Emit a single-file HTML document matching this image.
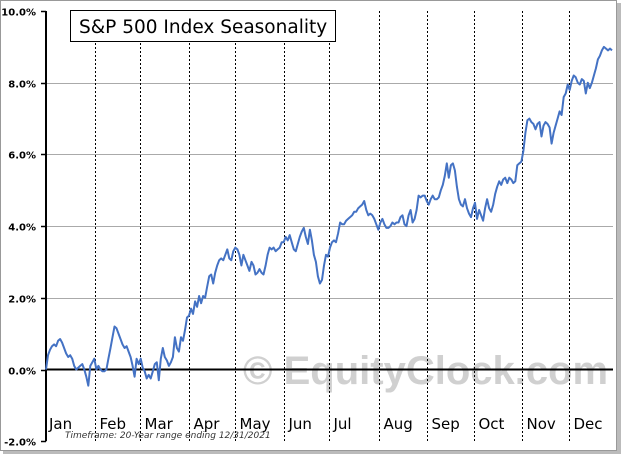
<!DOCTYPE html>
<html><head><meta charset="utf-8"><style>
body{margin:0;background:#fff;}
svg{display:block;font-family:"DejaVu Sans","Liberation Sans",sans-serif;}
</style></head><body>
<svg width="628" height="457">
<rect x="3" y="3" width="618" height="451" fill="#bbb"/>
<rect x="0.5" y="0.5" width="616" height="450" fill="#fff" stroke="#999"/>
<g id="grid"></g>
<text x="243" y="384" font-size="40" font-weight="bold" fill="#d0d0d0" font-family="Liberation Sans,sans-serif">© EquityClock.com</text>
<g id="months"></g>
<g id="axes"></g>
<polyline id="line" fill="none" stroke="#4472c4" stroke-width="2" stroke-linejoin="round"/>
<rect x="70.5" y="10.5" width="265" height="31" fill="#fff" stroke="#000"/>
<text x="79" y="33" font-size="18.5">S&amp;P 500 Index Seasonality</text>
<text x="65" y="438" font-size="9" font-style="italic" fill="#333">Timeframe: 20-Year range ending 12/31/2021</text>
</svg>
<script>
const yTicks=[10,8,6,4,2,0,-2];
const tickLabels=["10.0%","8.0%","6.0%","4.0%","2.0%","0.0%","-2.0%"];
const months=["Jan","Feb","Mar","Apr","May","Jun","Jul","Aug","Sep","Oct","Nov","Dec"];
const monthStartIdx=[0,24.5,46.5,71,94,118,140.5,165.5,189,212.5,236.5,259.5];
const values=[0.0,0.4,0.55,0.65,0.7,0.65,0.8,0.85,0.75,0.6,0.45,0.35,0.4,0.3,0.1,0.0,0.05,0.1,0.15,0.0,-0.2,-0.45,0.1,0.2,0.3,0.0,0.1,0.0,-0.05,-0.05,0.0,0.3,0.6,0.9,1.2,1.15,1.0,0.85,0.7,0.6,0.65,0.5,0.35,0.1,-0.2,0.3,0.15,0.3,0.05,-0.05,-0.25,-0.15,-0.25,-0.05,0.15,0.2,-0.3,0.3,0.6,0.35,0.25,0.1,0.2,0.35,0.9,0.6,0.5,0.9,0.8,1.1,1.45,1.5,1.7,1.55,1.9,1.75,2.05,1.85,2.05,2.0,2.3,2.6,2.65,2.4,2.7,2.9,3.05,3.1,3.05,3.2,3.35,3.1,3.05,3.3,3.4,3.35,3.2,2.9,3.2,3.05,2.9,2.75,3.0,2.9,2.65,2.7,2.8,2.7,2.65,2.9,3.2,3.4,3.35,3.4,3.3,3.35,3.4,3.55,3.55,3.7,3.6,3.75,3.55,3.35,3.3,3.5,3.7,3.85,3.95,3.7,3.5,3.9,3.6,3.2,3.0,2.6,2.4,2.5,2.9,3.2,3.15,3.4,3.55,3.6,3.55,3.8,4.1,4.05,4.05,4.15,4.2,4.25,4.3,4.4,4.4,4.5,4.55,4.6,4.7,4.45,4.3,4.35,4.3,4.2,4.05,3.9,4.1,4.2,4.05,3.95,3.95,4.0,4.1,4.05,4.1,4.1,4.25,4.3,4.05,4.0,4.3,4.45,4.1,4.2,4.45,4.85,4.8,4.85,4.85,4.7,4.6,4.75,4.85,4.75,4.75,4.8,5.0,5.15,5.4,5.75,5.35,5.7,5.75,5.55,5.1,4.75,4.6,4.55,4.75,4.5,4.35,4.25,4.5,4.65,4.2,4.45,4.3,4.15,4.5,4.75,4.5,4.4,4.6,4.9,5.1,5.25,5.15,5.3,5.35,5.2,5.35,5.3,5.2,5.25,5.7,5.75,5.8,6.1,6.6,6.95,7.0,6.9,6.85,6.7,6.85,6.9,6.5,6.8,6.9,6.85,6.75,6.3,6.6,6.8,7.0,7.2,7.1,7.6,7.7,7.95,7.8,8.05,8.2,8.15,8.0,7.95,8.1,8.05,7.7,8.0,7.85,8.0,8.2,8.4,8.65,8.75,8.9,9.0,8.95,8.9,8.95,8.9];
const X0=46,X1=613,Y10=11,Y0=369.5;
const N=values.length;
function xs(i){return X0+i*(X1-X0-1)/(N-1);}
function ys(v){return Y0-(Y0-Y10)*v/10;}
const NS="http://www.w3.org/2000/svg";
function mk(t,a,p){const e=document.createElementNS(NS,t);for(const k in a)e.setAttribute(k,a[k]);p.appendChild(e);return e;}
const grid=document.getElementById('grid'),axes=document.getElementById('axes'),mg=document.getElementById('months');
yTicks.forEach((v,i)=>{
  const y=Math.round(ys(v))+0.5;
  if(v!==0&&v!==10&&v!==-2){const g=mk('line',{x1:X0,x2:X1,y1:y,y2:y,stroke:'#aaa'},grid);
  
  }
  const t=mk('line',{x1:X0-5,x2:X0,y1:y,y2:y,stroke:'#000','stroke-width':1.5},axes);
  
  
  const l=mk('text',{x:36,y:y+4,'text-anchor':'end','font-size':10,'font-weight':'bold'},axes);
  l.textContent=tickLabels[i];
  
  
});
months.forEach((m,i)=>{
  const x=Math.round(xs(monthStartIdx[i]))+0.5;
  if(i>0){const d=mk('line',{x1:x,x2:x,y1:11,y2:441,stroke:'#000','stroke-dasharray':'2,2'},mg);
  
  }
  const t=mk('text',{x:(i===0?49:x+4),y:429,'font-size':15},mg);
  t.textContent=m;
  
  
});
const ya=mk('line',{x1:X0,x2:X0,y1:Y10,y2:ys(-2),stroke:'#000','stroke-width':2},axes);


const za=mk('line',{x1:X0,x2:X1,y1:Y0,y2:Y0,stroke:'#000','stroke-width':2},axes);


document.getElementById('line').setAttribute('points',values.map((v,i)=>xs(i).toFixed(1)+','+ys(v).toFixed(1)).join(' '));
</script>
</body></html>
